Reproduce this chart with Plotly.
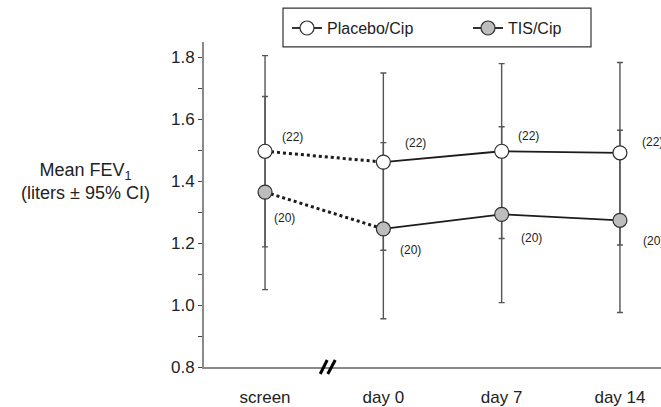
import plotly.graph_objects as go

# Visit labels and group sizes
visits = ["screen", "day 0", "day 7", "day 14"]
n_placebo = [22, 22, 22, 22]
n_tis = [20, 20, 20, 20]

# Mean FEV1 (liters) with 95% confidence limits
placebo_mean = [1.497, 1.462, 1.497, 1.492]
placebo_low = [1.188, 1.177, 1.215, 1.194]
placebo_high = [1.806, 1.750, 1.780, 1.784]

tis_mean = [1.365, 1.246, 1.293, 1.274]
tis_low = [1.050, 0.956, 1.008, 0.976]
tis_high = [1.674, 1.525, 1.576, 1.565]

xpos = list(range(len(visits)))

LINE = "#1c1c1c"
EDGE = "#2e2e2e"
BAR = "#555555"
AXIS = "#8a8a8a"
FONT = "Arial, Liberation Sans, sans-serif"

fig = go.Figure()

# Confidence-interval bars (drawn first so the markers sit on top)
for mean, low, high in [(placebo_mean, placebo_low, placebo_high),
                        (tis_mean, tis_low, tis_high)]:
    fig.add_trace(go.Scatter(
        x=xpos, y=mean, mode="markers",
        marker=dict(size=1, color="rgba(0,0,0,0)"),
        error_y=dict(type="data", symmetric=False,
                     array=[h - m for h, m in zip(high, mean)],
                     arrayminus=[m - l for m, l in zip(mean, low)],
                     color=BAR, thickness=1.4, width=3),
        showlegend=False, hoverinfo="skip"))

# Dotted segment across the axis break (screen -> day 0)
for mean in (placebo_mean, tis_mean):
    fig.add_trace(go.Scatter(
        x=xpos[:2], y=mean[:2], mode="lines",
        line=dict(color=LINE, width=3, dash="dot"),
        showlegend=False, hoverinfo="skip"))

# Solid treatment-period lines with markers (these carry the legend)
series = [
    ("Placebo/Cip", placebo_mean, "white"),
    ("TIS/Cip", tis_mean, "#bdbdbd"),
]
for name, mean, fill in series:
    fig.add_trace(go.Scatter(
        x=xpos[1:], y=mean[1:], mode="lines+markers", name=name,
        line=dict(color=LINE, width=1.8),
        marker=dict(size=14, color=fill, line=dict(color=EDGE, width=1.2))))
    fig.add_trace(go.Scatter(
        x=xpos[:1], y=mean[:1], mode="markers",
        marker=dict(size=14, color=fill, line=dict(color=EDGE, width=1.2)),
        showlegend=False))

# Group size labels next to each point
placebo_shift = [(27, 14), (32, 19), (27, 15), (33, 11)]
tis_shift = [(19, -26), (27, -21), (30, -24), (34, -21)]
for ns, mean, shifts in [(n_placebo, placebo_mean, placebo_shift),
                         (n_tis, tis_mean, tis_shift)]:
    for xi, n, m, (dx, dy) in zip(xpos, ns, mean, shifts):
        fig.add_annotation(x=xi, y=m, text=f"({n})", showarrow=False,
                           xshift=dx, yshift=dy,
                           font=dict(size=12, color="#222", family=FONT))

# Y-axis title placed to the left of the tick labels
fig.add_annotation(xref="paper", yref="paper", x=-0.26, y=0.572,
                   text="Mean FEV<sub>1</sub><br>(liters ± 95% CI)",
                   showarrow=False, xanchor="center", yanchor="middle",
                   font=dict(size=18, color="#222", family=FONT))

# Axis-break mark between screen and day 0
for x0, x1 in [(-7.5, -0.5), (0.0, 7.5)]:
    fig.add_shape(type="line", xref="x", yref="paper",
                  xsizemode="pixel", ysizemode="pixel",
                  xanchor=0.53, yanchor=0,
                  x0=x0, x1=x1, y0=-7, y1=7,
                  line=dict(color="black", width=3))

# Legend frame
fig.add_shape(type="rect", xref="paper", yref="paper",
              x0=(283 - 204) / 457, x1=(591 - 204) / 457,
              y0=1 + (42 - 47) / 327, y1=1 + (42 - 8) / 327,
              line=dict(color="#333", width=1.2), fillcolor="white",
              layer="below")

fig.update_layout(
    width=661, height=407,
    margin=dict(l=204, r=0, t=42, b=38),
    paper_bgcolor="white", plot_bgcolor="white",
    font=dict(family=FONT, color="#222"),
    showlegend=True,
    legend=dict(orientation="h", x=(287 - 204) / 457, y=1 + (42 - 28) / 327,
                xanchor="left", yanchor="middle",
                bgcolor="rgba(0,0,0,0)", borderwidth=0,
                font=dict(size=16, family=FONT, color="#222"),
                entrywidth=136, entrywidthmode="pixels"),
    xaxis=dict(range=[-0.516, 3.347], tickmode="array", tickvals=xpos,
               ticktext=visits, showline=True, linecolor=AXIS, linewidth=2,
               showgrid=False, zeroline=False, ticks="",
               ticklabelstandoff=14,
               tickfont=dict(size=17, family=FONT, color="#222")),
    yaxis=dict(range=[0.8, 1.85], tickmode="linear", tick0=0.8, dtick=0.2,
               tickformat=".1f", showline=True, linecolor=AXIS, linewidth=2,
               showgrid=False, zeroline=False, ticks="outside", ticklen=4,
               tickcolor="#444", tickwidth=1,
               minor=dict(dtick=0.1, ticks="outside", ticklen=4,
                          tickcolor="#444", showgrid=False),
               tickfont=dict(size=17, family=FONT, color="#222")),
)

fig.write_html("out.html")
